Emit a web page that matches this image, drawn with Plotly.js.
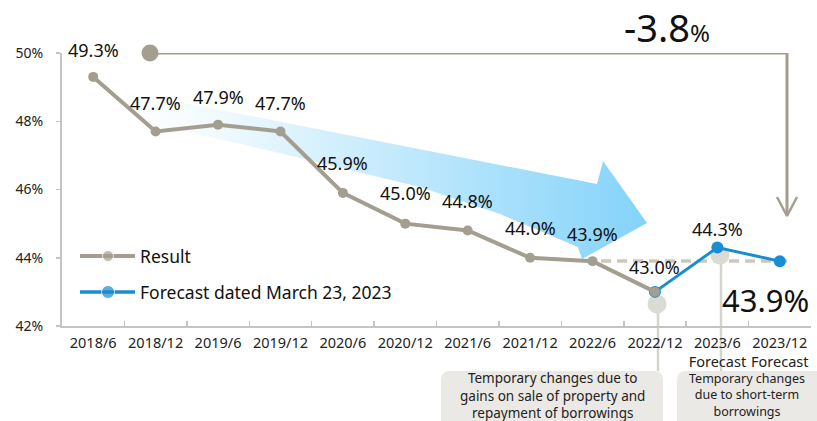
<!DOCTYPE html>
<html>
<head>
<meta charset="utf-8">
<script src="https://cdn.plot.ly/plotly-3.0.1.min.js"></script>
<style>html,body{margin:0;padding:0;background:#fff;}#chart{width:817px;height:421px;}</style>
</head>
<body>
<div id="chart"></div>
<script>
// ---------- data ----------
const categories = ['2018/6','2018/12','2019/6','2019/12','2020/6','2020/12','2021/6','2021/12','2022/6','2022/12','2023/6','2023/12'];
const forecastCategoryTag = 'Forecast';
const forecastTagCats = ['2023/6', '2023/12'];
const resultCats = ['2018/6','2018/12','2019/6','2019/12','2020/6','2020/12','2021/6','2021/12','2022/6','2022/12'];
const resultValues = [49.3, 47.7, 47.9, 47.7, 45.9, 45.0, 44.8, 44.0, 43.9, 43.0];
const forecastCats = ['2022/12','2023/6','2023/12'];
const forecastValues = [43.0, 44.3, 43.9];
const yTickVals = [42, 44, 46, 48, 50];
const yTickText = ['42%', '44%', '46%', '48%', '50%'];
const seriesNames = ['Result', 'Forecast dated March 23, 2023'];
const changeText = '-3.8';
const note1Lines = ['Temporary changes due to', 'gains on sale of property and', 'repayment of borrowings'];
const note2Lines = ['Temporary changes', 'due to short-term', 'borrowings'];

// ---------- style ----------
const GRAY = '#a39e90';
const BLUE = '#1a8dd2';
const FONT = 'Noto Sans, Open Sans, sans-serif';
const TXT = '#111';
const L = 62, R = 811, T = 53, B = 326, W = 817, H = 421;
const PX = p => (p - L) / (R - L);
const PY = p => (B - p) / (B - T);

// pixel-space decorative traces on base axes (x, y)
const arrow = {
  x: [88, 597, 603, 647, 582, 578, 500, 420, 250, 88],
  y: [84, 184, 161, 223, 259, 247, 214, 187, 146, 111],
  xaxis: 'x', yaxis: 'y', mode: 'lines', fill: 'toself',
  line: {width: 0, color: 'rgba(0,0,0,0)'},
  fillgradient: {type: 'horizontal', colorscale: [[0, 'rgba(255,255,255,0)'], [0.3, '#e6f6fe'], [1, '#84d3fa']]},
  hoverinfo: 'skip', showlegend: false
};
const ghostCircles = {
  x: [657, 720], y: [304, 255], xaxis: 'x', yaxis: 'y', mode: 'markers',
  marker: {size: 19, color: '#dcdad5'}, cliponaxis: false, hoverinfo: 'skip', showlegend: false
};
const dashLine = {
  x: [601, 788], y: [261, 261], xaxis: 'x', yaxis: 'y', mode: 'lines',
  line: {color: '#cbc8c0', width: 3.5, dash: '10px,6px'}, hoverinfo: 'skip', showlegend: false
};
const bracket = {
  x: [150, 787, 787], y: [53, 53, 214], xaxis: 'x', yaxis: 'y', mode: 'lines',
  line: {color: GRAY, width: 3}, cliponaxis: false, hoverinfo: 'skip', showlegend: false
};
const bracketDot = {
  x: [150], y: [53], xaxis: 'x', yaxis: 'y', mode: 'markers',
  marker: {size: 17, color: GRAY}, cliponaxis: false, hoverinfo: 'skip', showlegend: false
};
const chevron = {
  x: [777, 787, 797], y: [197, 216, 197], xaxis: 'x', yaxis: 'y', mode: 'lines',
  line: {color: GRAY, width: 2.5}, cliponaxis: false, hoverinfo: 'skip', showlegend: false
};
const legResult = {
  x: [80, 108, 135], y: [256, 256, 256], xaxis: 'x', yaxis: 'y', mode: 'lines+markers',
  line: {color: GRAY, width: 4}, marker: {size: [0, 11, 0], color: GRAY}, hoverinfo: 'skip', showlegend: false
};
const legForecast = {
  x: [80, 108, 135], y: [292, 292, 292], xaxis: 'x', yaxis: 'y', mode: 'lines+markers',
  line: {color: BLUE, width: 3.5}, marker: {size: [0, 13, 0], color: BLUE}, hoverinfo: 'skip', showlegend: false
};

// data traces on overlay axes (x2, y2)
const forecastTrace = {
  x: forecastCats, y: forecastValues, xaxis: 'x2', yaxis: 'y2', mode: 'lines+markers',
  name: seriesNames[1], line: {color: BLUE, width: 3}, marker: {size: 12, color: BLUE},
  cliponaxis: false, showlegend: false
};
const resultTrace = {
  x: resultCats, y: resultValues, xaxis: 'x2', yaxis: 'y2', mode: 'lines+markers',
  name: seriesNames[0], line: {color: GRAY, width: 4}, marker: {size: 10, color: GRAY},
  cliponaxis: false, showlegend: false
};

const labelShift = [27, 28, 28, 28, 30, 31, 29, 30, 27, 25];
const annotations = [];
resultCats.forEach((c, i) => {
  annotations.push({x: c, y: resultValues[i], xref: 'x2', yref: 'y2', text: resultValues[i].toFixed(1) + '%',
    xanchor: 'center', yanchor: 'middle',
    showarrow: false, yshift: labelShift[i], font: {family: FONT, size: 18, color: TXT}});
});
annotations.push({x: forecastCats[1], y: forecastValues[1], xref: 'x2', yref: 'y2', text: forecastValues[1].toFixed(1) + '%',
  xanchor: 'center', yanchor: 'middle',
  showarrow: false, yshift: 19, font: {family: FONT, size: 18, color: TXT}});
annotations.push({x: forecastCats[2], y: forecastValues[2], xref: 'x2', yref: 'y2', text: forecastValues[2].toFixed(1) + '%',
  xanchor: 'center', yanchor: 'middle',
  showarrow: false, yshift: -39, xshift: -14, font: {family: FONT, size: 31, color: TXT}});
annotations.push({x: PX(667), y: PY(27), xref: 'paper', yref: 'paper', showarrow: false, xanchor: 'center', yanchor: 'middle',
  borderpad: 0, text: changeText + '<span style="font-size:24px">%</span>', font: {family: FONT, size: 38, color: TXT}});
annotations.push({x: PX(138), y: PY(256), xref: 'paper', yref: 'paper', xanchor: 'left', yanchor: 'middle', text: seriesNames[0], showarrow: false,
  font: {family: FONT, size: 17.5, color: TXT}});
annotations.push({x: PX(138), y: PY(292), xref: 'paper', yref: 'paper', xanchor: 'left', yanchor: 'middle', text: seriesNames[1], showarrow: false,
  font: {family: FONT, size: 17.5, color: TXT}});
annotations.push({x: PX(552), y: PY(367.5), xref: 'paper', yref: 'paper', text: note1Lines.join('<br>'), showarrow: false,
  xanchor: 'center', yanchor: 'top', borderpad: 0, font: {family: FONT, size: 13.5, color: '#222'}});
annotations.push({x: PX(747), y: PY(369.5), xref: 'paper', yref: 'paper', text: note2Lines.join('<br>'), showarrow: false,
  xanchor: 'center', yanchor: 'top', borderpad: 0, font: {family: FONT, size: 12.5, color: '#222'}});

const tickText = categories.map(c => forecastTagCats.includes(c) ? c + '<br>' + forecastCategoryTag : c);

function roundBox(x0, y0, x1, y1, r) {
  const p = (x, y) => PX(x) + ',' + PY(y);
  return 'M' + p(x0 + r, y0) + ' L' + p(x1 - r, y0) + ' Q' + p(x1, y0) + ' ' + p(x1, y0 + r) +
    ' L' + p(x1, y1) + ' L' + p(x0, y1) + ' L' + p(x0, y0 + r) + ' Q' + p(x0, y0) + ' ' + p(x0 + r, y0) + ' Z';
}
const shapes = [
  {type: 'path', xref: 'paper', yref: 'paper', path: roundBox(441, 371, 663, 430, 9), fillcolor: '#ebe9e5', line: {width: 0}, layer: 'below'},
  {type: 'path', xref: 'paper', yref: 'paper', path: roundBox(677, 371, 830, 430, 9), fillcolor: '#ebe9e5', line: {width: 0}, layer: 'below'},
  {type: 'line', xref: 'paper', yref: 'paper', x0: PX(658), x1: PX(658), y0: PY(304), y1: PY(371), line: {color: '#d6d4cf', width: 2.5}, layer: 'below'},
  {type: 'line', xref: 'paper', yref: 'paper', x0: PX(721), x1: PX(721), y0: PY(255), y1: PY(371), line: {color: '#d6d4cf', width: 2.5}, layer: 'below'}
];

const layout = {
  width: W, height: H,
  margin: {l: L, r: W - R, t: T, b: H - B},
  paper_bgcolor: '#fff', plot_bgcolor: 'rgba(0,0,0,0)',
  showlegend: false,
  font: {family: FONT, color: '#222'},
  xaxis: {range: [L, R], visible: false, fixedrange: true},
  yaxis: {range: [B, T], visible: false, fixedrange: true},
  xaxis2: {overlaying: 'x', anchor: 'y2', side: 'bottom', type: 'category', categoryarray: categories, categoryorder: 'array',
    tickmode: 'array', tickvals: categories, ticktext: tickText,
    range: [-0.5, categories.length - 0.5], tickson: 'boundaries', ticks: 'inside', ticklen: 5, tickcolor: '#c4c4c4', tickwidth: 1.5,
    showline: true, linecolor: '#c4c4c4', linewidth: 2, showgrid: false, zeroline: false, tickangle: 0,
    tickfont: {family: FONT, size: 14.5, color: '#222'}, ticklabelstandoff: 3},
  yaxis2: {overlaying: 'y', anchor: 'x2', side: 'left', range: [42, 50], tickmode: 'array', tickvals: yTickVals, ticktext: yTickText,
    ticks: 'outside', ticklen: 4, tickcolor: '#c4c4c4', tickwidth: 1.5, showline: true, linecolor: '#c4c4c4', linewidth: 2,
    showgrid: false, zeroline: false, tickfont: {family: FONT, size: 14, color: '#222'}, ticklabelstandoff: 10},
  annotations: annotations,
  shapes: shapes
};

Plotly.newPlot('chart', [arrow, dashLine, ghostCircles, bracket, bracketDot, chevron, legResult, legForecast, forecastTrace, resultTrace], layout,
  {displayModeBar: false, staticPlot: true});
</script>
</body>
</html>
